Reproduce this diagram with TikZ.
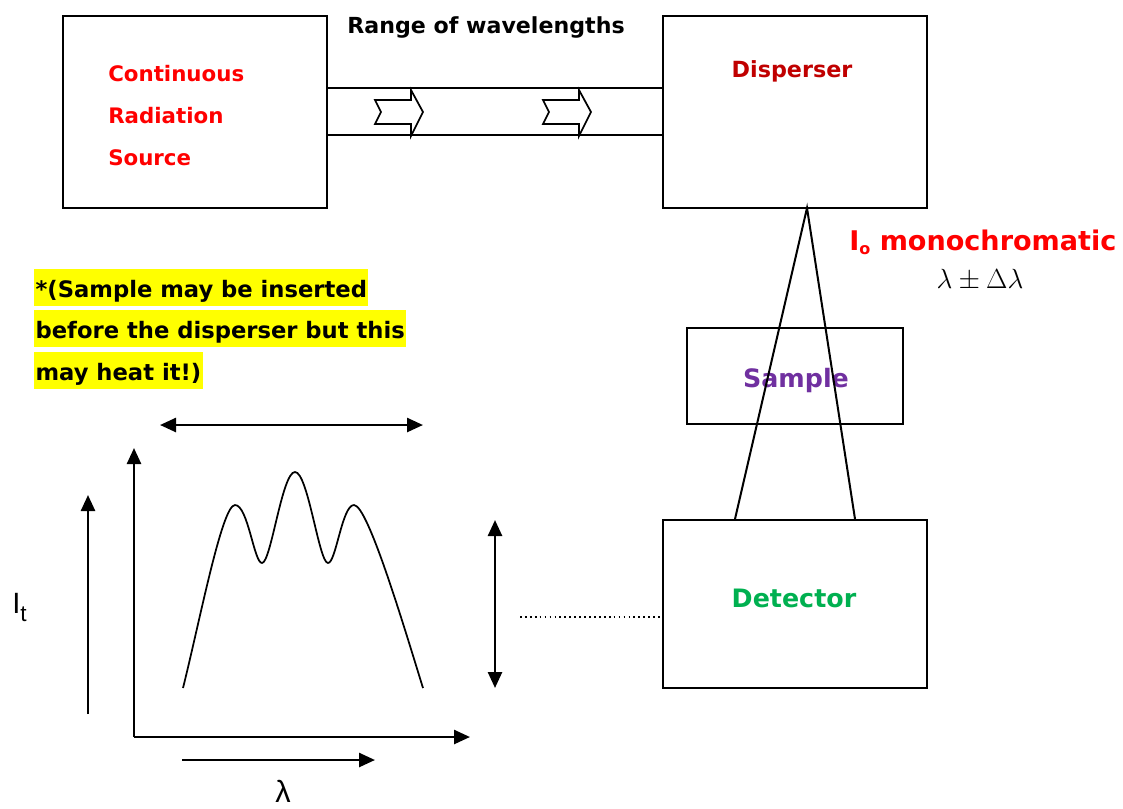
\documentclass[tikz,border=0pt]{standalone}
\usepackage{fontspec}
\setmainfont{DejaVu Sans}
\newfontfamily\arialfont{Liberation Sans}
\usetikzlibrary{arrows.meta,calc}
\definecolor{srcred}{RGB}{255,0,0}
\definecolor{darkred}{RGB}{192,0,0}
\definecolor{purp}{RGB}{112,48,160}
\definecolor{grn}{RGB}{0,176,80}
\definecolor{hly}{RGB}{255,255,0}
\begin{document}
\begin{tikzpicture}[x=0.75pt,y=-0.75pt,
  boxst/.style={draw,line width=1.5pt,inner sep=0pt},
  lab/.style={font=\bfseries\fontsize{16}{19}\selectfont,inner sep=0pt},
  hl/.style={font=\bfseries\fontsize{17}{20}\selectfont,fill=hly,inner xsep=1pt,inner ysep=0pt,text height=21pt,text depth=6.5pt,anchor=base west},
  tip/.style={-{Triangle[length=12pt,width=10.5pt]}},
  dtip/.style={{Triangle[length=12pt,width=10.5pt]}-{Triangle[length=12pt,width=10.5pt]}},
  ax/.style={line width=1.9pt},
  blk/.style={draw,line width=1.3pt,fill=white,line join=miter}
]
\useasboundingbox (0,0) rectangle (1123,808);

% boxes
\node[boxst,minimum width=198pt,minimum height=144pt] (src) at (195,112) {};
\node[boxst,minimum width=198pt,minimum height=144pt] (disp) at (795,112) {};
\node[boxst,minimum width=162pt,minimum height=72pt] (samp) at (795,376) {};
\node[boxst,minimum width=198pt,minimum height=126pt] (det) at (795,604) {};

% labels in boxes
\node[lab,text=srcred,anchor=base west] (l1) at (108,81) {Continuous};
\node[lab,text=srcred,anchor=base west] (l2) at (108,123) {Radiation};
\node[lab,text=srcred,anchor=base west] (l3) at (108,165) {Source};
\node[lab,text=darkred,anchor=base,font=\bfseries\fontsize{16.7}{19}\selectfont] (ldisp) at (792,77) {Disperser};
\node[lab,text=purp,anchor=base,font=\bfseries\fontsize{19}{22}\selectfont] (lsamp) at (796,387) {Sample};
\node[lab,text=grn,anchor=base,font=\bfseries\fontsize{19}{22}\selectfont] (ldet) at (794,607) {Detector};

% top label
\node[lab,text=black,anchor=base,font=\bfseries\fontsize{16.6}{19}\selectfont] (range) at (486,33) {Range of wavelengths};

% channel
\coordinate (ct) at (0,88);
\coordinate (cb) at (0,135);
\draw[line width=1.5pt] (src.east |- ct) -- (disp.west |- ct);
\draw[line width=1.5pt] (src.east |- cb) -- (disp.west |- cb);

% block arrows
\foreach \dx in {0,168}{
  \draw[blk] (375+\dx,100) -- (411+\dx,100) -- (411+\dx,90) -- (423+\dx,112) -- (411+\dx,136) -- (411+\dx,124) -- (375+\dx,124) -- (381+\dx,112) -- cycle;
}

% cone
\coordinate (apex) at (807,208);
\draw[line width=1.5pt] ($(det.north)+(-60,0)$) -- (apex) -- ($(det.north)+(60,0)$);

% I0 monochromatic
\node[lab,text=srcred,anchor=base west,font=\bfseries\fontsize{20.3}{24}\selectfont] (mono) at (849,250) {I\raisebox{-3pt}{\fontsize{12}{12}\selectfont o} monochromatic};
\node[anchor=base,inner sep=0pt] (lam) at (980,288) {\fontsize{21}{25}\selectfont $\lambda\pm\Delta\lambda$};

% highlighted note
\node[hl] (h1) at (34,297) {*(Sample may be inserted};
\node[hl] (h2) at (34,338) {before the disperser but this};
\node[hl] (h3) at (34,380) {may heat it!)};

% graph
\coordinate (org) at (134,737);
\coordinate (ytop) at (134,448);
\coordinate (xend) at (470,737);
\draw[ax,tip] (org) -- (ytop);
\draw[ax,tip] (org) -- (xend);
\coordinate (ha) at (160,425);
\coordinate (hb) at (423,425);
\draw[ax,dtip] (ha) -- (hb);
\coordinate (va) at (495,520);
\coordinate (vb) at (495,688);
\draw[ax,dtip] (va) -- (vb);
\coordinate (ia) at (88,714);
\coordinate (ib) at (88,495);
\draw[ax,tip] (ia) -- (ib);
\coordinate (la) at (182,760);
\coordinate (lb) at (375,760);
\draw[ax,tip] (la) -- (lb);

\draw[line width=1.3pt] (183,688) .. controls (200,620) and (222,505) .. (235,505)
  .. controls (248,505) and (254,563) .. (262,563)
  .. controls (271,563) and (282,472) .. (295,472)
  .. controls (308,472) and (319,563) .. (328,563)
  .. controls (336,563) and (342,505) .. (354,505)
  .. controls (368,505) and (405,630) .. (423,688);

% dotted line
\coordinate (dl) at (520,617);
\draw[line width=1.4pt,dash pattern=on 1.3pt off 2.4pt] (dl) -- (det.west |- dl);

% axis labels
\node[anchor=base west,inner sep=0pt,font=\arialfont\fontsize{22}{26}\selectfont] (It) at (12,613) {I\raisebox{-6pt}{\fontsize{17}{17}\selectfont t}};
\node[anchor=base,inner sep=0pt,font=\arialfont\fontsize{23}{27}\selectfont] (lamx) at (283,802) {λ};
\end{tikzpicture}
\end{document}
